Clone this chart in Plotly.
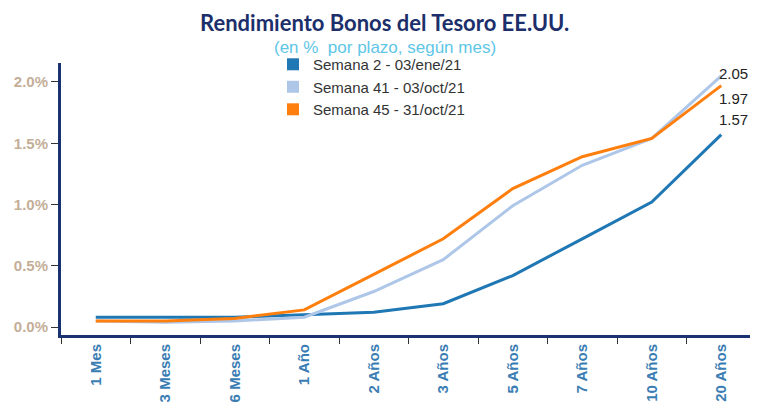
import plotly.graph_objects as go

plazos = ['1 Mes', '3 Meses', '6 Meses', '1 Año', '2 Años', '3 Años',
          '5 Años', '7 Años', '10 Años', '20 Años']

sem2 = [0.08, 0.08, 0.08, 0.10, 0.12, 0.19, 0.42, 0.72, 1.02, 1.57]
sem41 = [0.05, 0.04, 0.05, 0.08, 0.29, 0.55, 0.99, 1.32, 1.54, 2.05]
sem45 = [0.05, 0.05, 0.07, 0.14, 0.43, 0.72, 1.13, 1.39, 1.54, 1.97]

nombres = ['Semana 2 - 03/ene/21', 'Semana 41 - 03/oct/21', 'Semana 45 - 31/oct/21']
colores = ['#1f77b4', '#aec7e8', '#ff7f0e']

y_ticks = [0, 0.5, 1.0, 1.5, 2.0]

fig = go.Figure()
for nom, vals, col in zip(nombres, [sem2, sem41, sem45], colores):
    fig.add_trace(go.Scatter(x=plazos, y=vals, name=nom, mode='lines',
                             line=dict(color=col, width=3), showlegend=False))
# leyenda con cuadrados
for nom, col in zip(nombres, colores):
    fig.add_trace(go.Scatter(x=[None], y=[None], name=nom, mode='markers',
                             marker=dict(symbol='square', size=17, color=col)))

# etiquetas del ultimo punto
desfases = [15, 2, -13]
for vals, dy in zip([sem2, sem41, sem45], desfases):
    fig.add_annotation(x=plazos[-1], y=vals[-1], text='%.2f' % vals[-1],
                       showarrow=False, xanchor='left', xshift=-4, yshift=dy,
                       font=dict(family='Liberation Sans', size=15, color='#222'))

# la pagina tiene 8px de margen en el body
fig.update_layout(
    width=750, height=404,
    margin=dict(l=53, r=2, t=55, b=77),
    plot_bgcolor='white', paper_bgcolor='white',
    showlegend=True,
    legend=dict(x=0.305, y=1.055, xanchor='left', yanchor='top',
                font=dict(family='Liberation Sans', size=15, color='#333'),
                bgcolor='rgba(0,0,0,0)', tracegroupgap=0, itemsizing='constant'),
    xaxis=dict(type='category', range=[-0.5, 9.5], showline=True, linecolor='#1a3370', linewidth=3,
               ticks='outside', tickson='boundaries', ticklen=6, tickcolor='#333',
               tickangle=-90, showgrid=False, automargin=False,
               tickfont=dict(family='Liberation Sans', size=15, color='#3a7db3', weight='bold')),
    yaxis=dict(range=[-0.065, 2.155], showline=True, linecolor='#1a3370', linewidth=3,
               ticks='outside', ticklen=7, tickcolor='#333', showgrid=False, zeroline=False,
               automargin=False,
               tickmode='array', tickvals=y_ticks, ticktext=['%.1f%%' % v for v in y_ticks],
               tickfont=dict(family='Liberation Sans', size=15, color='#c4ae98', weight='bold')),
)

fig.add_annotation(x=0.466, y=1.148, xref='paper', yref='paper', xanchor='center', yanchor='middle',
                   showarrow=False, text='<b>Rendimiento Bonos del Tesoro EE.UU.</b>',
                   font=dict(family='Lato', size=22, color='#1c2f6b'))
fig.add_annotation(x=0.466, y=1.058, xref='paper', yref='paper', xanchor='center', yanchor='middle',
                   showarrow=False, text='(en %  por plazo, según mes)',
                   font=dict(family='Liberation Sans', size=17, color='#5ec6e6'))

fig.write_html('out.html')
